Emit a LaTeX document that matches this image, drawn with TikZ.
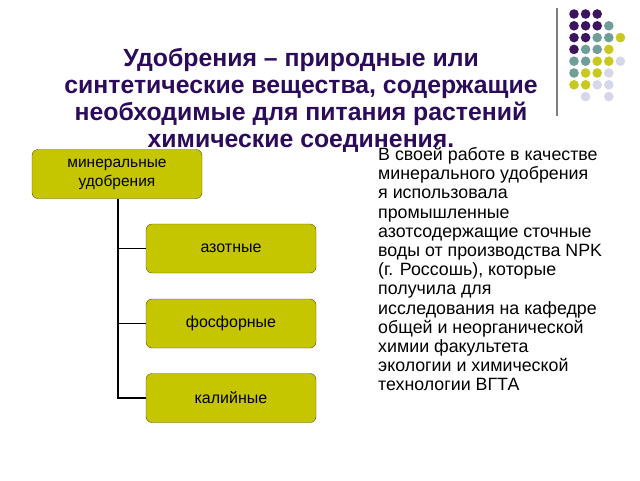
\documentclass[tikz,border=0pt]{standalone}
\usepackage{fontspec}
\setmainfont{Liberation Sans}
\usetikzlibrary{positioning}
\definecolor{titlepurple}{RGB}{44,12,90}
\definecolor{boxolive}{RGB}{198,198,0}
\definecolor{boxedge}{RGB}{80,80,20}
\definecolor{dotP}{RGB}{61,20,96}
\definecolor{dotT}{RGB}{112,158,152}
\definecolor{dotY}{RGB}{200,200,30}
\definecolor{dotL}{RGB}{215,215,235}
\tikzset{
  kindbox/.style={draw=boxedge, fill=boxolive, rounded corners=6pt, minimum width=170pt, minimum height=49pt, align=center, font=\fontsize{16}{19}\selectfont},
  treeline/.style={line width=1.6pt, black}
}
\begin{document}
\begin{tikzpicture}[x=1pt, y=-1pt]
    \useasboundingbox (0,0) rectangle (640,480);
    % dots in the corner
    \draw[gray, line width=1.2pt] (557,8) -- (557,116);
    \foreach \c/\r/\col in {0/0/dotP,1/0/dotP,2/0/dotP,
                            0/1/dotP,1/1/dotP,2/1/dotP,3/1/dotT,
                            0/2/dotP,1/2/dotP,2/2/dotT,3/2/dotT,4/2/dotY,
                            0/3/dotP,1/3/dotT,2/3/dotT,3/3/dotY,
                            0/4/dotT,1/4/dotT,2/4/dotY,3/4/dotY,4/4/dotL,
                            0/5/dotT,1/5/dotY,2/5/dotY,3/5/dotL,
                            0/6/dotY,1/6/dotY,2/6/dotL,3/6/dotL,
                            1/7/dotL,3/7/dotL}
        \fill[\col] (574+11.6*\c, 14+11.8*\r) circle (4.8pt);
    % title
    \node[align=center, text=titlepurple, font=\bfseries\fontsize{24.8}{27}\selectfont] (title) at (301,100.5)
        {Удобрения – природные или\\синтетические вещества, содержащие\\необходимые для питания растений\\химические соединения.};
    % tree of kinds
    \node[kindbox, font=\fontsize{15.5}{19}\selectfont] (mineral) at (117,174) {минеральные\\удобрения};
    \node[kindbox] (azot) at (231,248.5) {азотные};
    \node[kindbox] (fosfor) at (231,323.5) {фосфорные};
    \node[kindbox] (kali) at (231,398) {калийные};
    \coordinate (stem) at (118,398);
    \draw[treeline] (mineral.south -| stem) -- (stem) -- (kali.west);
    \draw[treeline] (azot.west -| stem) -- (azot.west);
    \draw[treeline] (fosfor.west -| stem) -- (fosfor.west);
    % text on the right
    \node[anchor=north west, inner sep=0pt, align=left, font=\fontsize{17.8}{19.2}\selectfont] (work) at (378,147)
        {В своей работе в качестве\\минерального удобрения\\я использовала\\промышленные\\азотсодержащие сточные\\воды от производства NPK\\(г. Россошь), которые\\получила для\\исследования на кафедре\\общей и неорганической\\химии факультета\\экологии и химической\\технологии ВГТА};
\end{tikzpicture}
\end{document}
